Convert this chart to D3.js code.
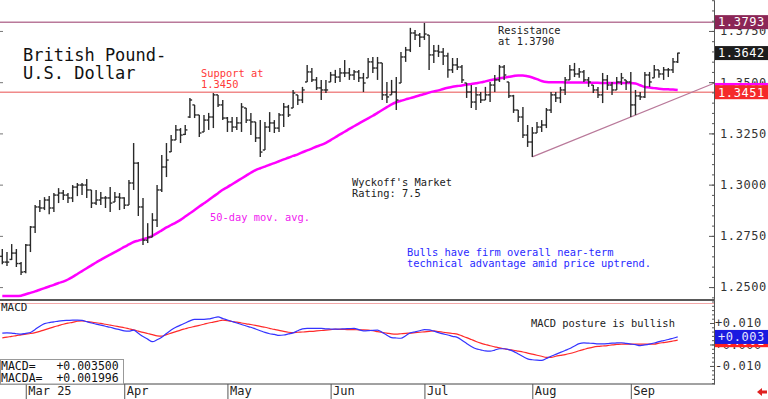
<!DOCTYPE html>
<html>
<head>
<meta charset="utf-8">
<script src="https://cdnjs.cloudflare.com/ajax/libs/d3/7.8.5/d3.min.js"></script>
<style>
  body { margin: 0; background: #fff; }
  svg { display: block; }
</style>
</head>
<body>
<div id="chart-area"></div>
<script>
const SVG_WIDTH = 768
const SVG_HEIGHT = 399
const PLOT_RIGHT = 714
const PRICE_BOTTOM = 300
const MACD_BOTTOM = 384
const FONT = "'DejaVu Sans Mono', monospace"

// ---- data ----
const START_DATE = "2025-02-24"
const SKIP_DATES = ["2025-06-19"]

const opens = [1.2650,1.2622,1.2635,1.2666,1.2615,1.2575,1.2705,1.2793,1.2891,1.2886,
  1.2925,1.2886,1.2949,1.2959,1.2949,1.2935,1.2988,1.2998,1.2998,1.2974,
  1.2910,1.2925,1.2935,1.2935,1.2915,1.2939,1.2935,1.2900,1.3008,1.3105,
  1.2891,1.2729,1.2744,1.2827,1.2974,1.3086,1.3160,1.3218,1.3267,1.3245,
  1.3330,1.3389,1.3340,1.3257,1.3315,1.3330,1.3438,1.3389,1.3325,1.3306,
  1.3281,1.3301,1.3374,1.3315,1.3306,1.3228,1.3169,1.3281,1.3301,1.3276,
  1.3340,1.3379,1.3374,1.3438,1.3413,1.3501,1.3550,1.3511,1.3472,1.3462,
  1.3501,1.3535,1.3525,1.3545,1.3545,1.3535,1.3550,1.3521,1.3521,1.3599,
  1.3569,1.3594,1.3438,1.3438,1.3452,1.3496,1.3623,1.3657,1.3740,1.3730,
  1.3720,1.3730,1.3633,1.3652,1.3647,1.3628,1.3560,1.3584,1.3574,1.3496,
  1.3452,1.3403,1.3438,1.3413,1.3438,1.3486,1.3511,1.3574,1.3501,1.3433,
  1.3364,1.3330,1.3242,1.3208,1.3252,1.3281,1.3291,1.3364,1.3438,1.3423,
  1.3462,1.3511,1.3560,1.3540,1.3550,1.3511,1.3486,1.3462,1.3438,1.3511,
  1.3486,1.3462,1.3501,1.3511,1.3501,1.3389,1.3433,1.3428,1.3535,1.3521,
  1.3560,1.3540,1.3560,1.3560,1.3599]

const highs = [1.2686,1.2671,1.2710,1.2686,1.2622,1.2710,1.2798,1.2900,1.2925,1.2939,
  1.2944,1.2959,1.2983,1.2974,1.2959,1.2998,1.3008,1.3008,1.3027,1.2974,
  1.2974,1.2964,1.2944,1.2988,1.2964,1.2959,1.2939,1.3022,1.3203,1.3110,
  1.2935,1.2812,1.2861,1.2998,1.3145,1.3203,1.3242,1.3291,1.3276,1.3291,
  1.3423,1.3389,1.3340,1.3340,1.3350,1.3447,1.3438,1.3413,1.3330,1.3330,
  1.3330,1.3398,1.3374,1.3350,1.3306,1.3315,1.3306,1.3354,1.3315,1.3350,
  1.3398,1.3389,1.3462,1.3438,1.3477,1.3584,1.3569,1.3525,1.3511,1.3511,
  1.3550,1.3560,1.3569,1.3608,1.3569,1.3560,1.3560,1.3545,1.3618,1.3623,
  1.3623,1.3594,1.3501,1.3511,1.3525,1.3647,1.3672,1.3765,1.3755,1.3740,
  1.3789,1.3730,1.3682,1.3682,1.3667,1.3643,1.3618,1.3618,1.3584,1.3496,
  1.3486,1.3477,1.3452,1.3477,1.3501,1.3535,1.3584,1.3584,1.3501,1.3438,
  1.3364,1.3379,1.3291,1.3281,1.3306,1.3315,1.3374,1.3452,1.3452,1.3477,
  1.3525,1.3584,1.3594,1.3569,1.3560,1.3525,1.3486,1.3477,1.3545,1.3535,
  1.3501,1.3525,1.3545,1.3511,1.3550,1.3462,1.3452,1.3550,1.3550,1.3584,
  1.3560,1.3574,1.3569,1.3618,1.3643]

const lows = [1.2612,1.2603,1.2632,1.2598,1.2559,1.2568,1.2671,1.2764,1.2866,1.2876,
  1.2856,1.2866,1.2910,1.2925,1.2910,1.2915,1.2944,1.2949,1.2935,1.2886,
  1.2900,1.2900,1.2886,1.2866,1.2915,1.2876,1.2881,1.2900,1.2974,1.2847,
  1.2705,1.2715,1.2744,1.2793,1.2964,1.3037,1.3159,1.3218,1.3203,1.3242,
  1.3325,1.3325,1.3232,1.3257,1.3267,1.3276,1.3379,1.3315,1.3257,1.3257,
  1.3267,1.3257,1.3301,1.3242,1.3208,1.3135,1.3169,1.3257,1.3252,1.3257,
  1.3281,1.3330,1.3374,1.3389,1.3398,1.3501,1.3501,1.3462,1.3413,1.3447,
  1.3501,1.3496,1.3501,1.3525,1.3511,1.3511,1.3501,1.3452,1.3521,1.3545,
  1.3511,1.3413,1.3398,1.3438,1.3364,1.3496,1.3599,1.3647,1.3706,1.3672,
  1.3706,1.3560,1.3594,1.3623,1.3584,1.3521,1.3545,1.3560,1.3496,1.3423,
  1.3374,1.3364,1.3398,1.3413,1.3403,1.3452,1.3501,1.3511,1.3423,1.3350,
  1.3306,1.3228,1.3184,1.3135,1.3252,1.3257,1.3276,1.3350,1.3403,1.3398,
  1.3438,1.3511,1.3525,1.3521,1.3501,1.3477,1.3447,1.3423,1.3398,1.3462,
  1.3438,1.3462,1.3486,1.3462,1.3330,1.3340,1.3413,1.3423,1.3477,1.3521,
  1.3521,1.3511,1.3525,1.3545,1.3594]

const closes = [1.2622,1.2622,1.2666,1.2615,1.2573,1.2705,1.2793,1.2891,1.2886,1.2925,
  1.2886,1.2949,1.2959,1.2949,1.2935,1.2988,1.2998,1.2998,1.2974,1.2910,
  1.2925,1.2935,1.2935,1.2910,1.2939,1.2935,1.2900,1.3008,1.3105,1.2891,
  1.2729,1.2744,1.2827,1.2974,1.3086,1.3120,1.3218,1.3267,1.3242,1.3267,
  1.3413,1.3340,1.3252,1.3315,1.3330,1.3438,1.3389,1.3325,1.3306,1.3281,
  1.3301,1.3379,1.3315,1.3306,1.3228,1.3159,1.3281,1.3301,1.3276,1.3340,
  1.3379,1.3340,1.3447,1.3413,1.3462,1.3550,1.3511,1.3472,1.3462,1.3462,
  1.3535,1.3525,1.3545,1.3545,1.3535,1.3550,1.3521,1.3496,1.3599,1.3569,
  1.3594,1.3438,1.3428,1.3452,1.3413,1.3623,1.3657,1.3740,1.3730,1.3720,
  1.3735,1.3633,1.3652,1.3647,1.3628,1.3560,1.3584,1.3574,1.3511,1.3452,
  1.3403,1.3438,1.3413,1.3438,1.3486,1.3511,1.3574,1.3535,1.3433,1.3364,
  1.3330,1.3242,1.3208,1.3252,1.3281,1.3291,1.3364,1.3438,1.3423,1.3462,
  1.3511,1.3560,1.3540,1.3550,1.3511,1.3501,1.3462,1.3438,1.3511,1.3486,
  1.3462,1.3501,1.3521,1.3501,1.3389,1.3433,1.3428,1.3535,1.3501,1.3560,
  1.3540,1.3560,1.3560,1.3599,1.3642]

const ma50 = [1.2456,1.2456,1.2456,1.2456,1.2458,1.2465,1.2472,1.2479,1.2487,1.2495,
  1.2503,1.2511,1.2520,1.2527,1.2537,1.2550,1.2564,1.2578,1.2592,1.2606,
  1.2620,1.2633,1.2646,1.2658,1.2671,1.2683,1.2696,1.2708,1.2720,1.2727,
  1.2734,1.2740,1.2750,1.2763,1.2777,1.2791,1.2803,1.2815,1.2828,1.2844,
  1.2860,1.2876,1.2893,1.2909,1.2925,1.2942,1.2958,1.2975,1.2988,1.3002,
  1.3016,1.3030,1.3044,1.3058,1.3071,1.3080,1.3088,1.3097,1.3105,1.3114,
  1.3123,1.3131,1.3140,1.3148,1.3158,1.3167,1.3176,1.3186,1.3194,1.3204,
  1.3217,1.3231,1.3245,1.3258,1.3272,1.3285,1.3298,1.3311,1.3323,1.3336,
  1.3350,1.3364,1.3378,1.3392,1.3402,1.3409,1.3416,1.3422,1.3429,1.3436,
  1.3442,1.3449,1.3455,1.3460,1.3467,1.3473,1.3478,1.3481,1.3484,1.3488,
  1.3491,1.3495,1.3499,1.3504,1.3509,1.3514,1.3519,1.3523,1.3526,1.3530,
  1.3533,1.3533,1.3529,1.3523,1.3515,1.3506,1.3501,1.3500,1.3500,1.3500,
  1.3499,1.3499,1.3499,1.3498,1.3498,1.3498,1.3497,1.3497,1.3496,1.3496,
  1.3496,1.3496,1.3496,1.3496,1.3496,1.3494,1.3485,1.3476,1.3474,1.3471,
  1.3468,1.3466,1.3465,1.3464,1.3462]

const macd = [.0053,.0054,.0053,.0050,.0048,.0052,.0056,.0070,.0085,.0097,
  .0102,.0105,.0109,.0111,.0112,.0113,.0113,.0112,.0106,.0100,
  .0095,.0090,.0085,.0080,.0074,.0069,.0063,.0062,.0067,.0052,
  .0037,.0025,.0013,.0022,.0034,.0051,.0067,.0080,.0090,.0100,
  .0110,.0117,.0117,.0117,.0119,.0124,.0128,.0121,.0114,.0107,
  .0100,.0093,.0086,.0080,.0072,.0064,.0056,.0050,.0047,.0042,
  .0044,.0049,.0054,.0064,.0073,.0075,.0075,.0075,.0075,.0073,
  .0072,.0071,.0072,.0073,.0074,.0075,.0069,.0063,.0064,.0066,
  .0067,.0056,.0043,.0032,.0030,.0029,.0041,.0054,.0059,.0064,
  .0069,.0068,.0062,.0055,.0049,.0044,.0038,.0033,.0020,.0005,
  -.0009,-.0020,-.0025,-.0030,-.0031,-.0026,-.0020,-.0020,-.0024,-.0032,
  -.0044,-.0056,-.0067,-.0071,-.0073,-.0074,-.0065,-.0055,-.0046,-.0037,
  -.0028,-.0019,-.0007,.0004,.0007,.0006,.0005,.0003,.0003,.0004,
  .0006,.0007,.0008,.0005,.0002,-.0001,-.0005,-.0002,.0002,.0007,
  .0013,.0018,.0023,.0029,.0035]

const macdSignal = [.0031,.0034,.0038,.0041,.0045,.0048,.0051,.0055,.0061,.0068,
  .0075,.0082,.0088,.0094,.0099,.0103,.0108,.0110,.0107,.0104,
  .0101,.0098,.0094,.0090,.0086,.0082,.0078,.0073,.0068,.0062,
  .0056,.0051,.0046,.0040,.0039,.0046,.0053,.0060,.0067,.0073,
  .0079,.0084,.0089,.0094,.0100,.0104,.0109,.0113,.0111,.0107,
  .0104,.0100,.0096,.0093,.0089,.0084,.0080,.0075,.0070,.0066,
  .0061,.0057,.0055,.0057,.0058,.0060,.0061,.0063,.0065,.0067,
  .0069,.0071,.0070,.0070,.0069,.0069,.0068,.0068,.0067,.0064,
  .0060,.0056,.0053,.0049,.0048,.0050,.0052,.0053,.0055,.0057,
  .0059,.0061,.0063,.0060,.0057,.0054,.0051,.0048,.0040,.0032,
  .0023,.0014,.0006,.0000,-.0006,-.0011,-.0016,-.0020,-.0024,-.0027,
  -.0031,-.0035,-.0040,-.0045,-.0050,-.0055,-.0060,-.0060,-.0055,-.0051,
  -.0047,-.0042,-.0036,-.0029,-.0023,-.0017,-.0012,-.0009,-.0007,-.0005,
  -.0002,.0000,.0002,.0002,.0002,.0002,.0002,.0002,.0002,.0002,
  .0006,.0009,.0012,.0016,.0020]

const priceTicks = [1.2500, 1.2750, 1.3000, 1.3250, 1.3500, 1.3750]
const macdTicks = [0.010, 0, -0.010]
const RESISTANCE = 1.3793
const SUPPORT = 1.3451
const TREND_FROM = [113, 1.3135]   // bar index, price
const TREND_TO = [134, 1.3330]
const MACD_NOW = 0.003500
const MACDA_NOW = 0.001996

// ---- dates: weekdays from START_DATE ----
const dates = []
let day = d3.timeParse("%Y-%m-%d")(START_DATE)
while (dates.length < closes.length) {
  const iso = d3.timeFormat("%Y-%m-%d")(day)
  if (day.getDay() % 6 !== 0 && !SKIP_DATES.includes(iso)) dates.push(day)
  day = d3.timeDay.offset(day, 1)
}
const monthStarts = d3.range(1, dates.length).filter(i => dates[i].getMonth() !== dates[i - 1].getMonth())

const N = closes.length
const x = d3.scaleLinear().domain([0, N - 1]).range([2.3, 677.7])
const y = d3.scaleLinear().domain([1.2437, 1.3901]).range([PRICE_BOTTOM, 0])
const yM = d3.scaleLinear().domain([-0.0184, 0.0207]).range([MACD_BOTTOM, PRICE_BOTTOM])

const svg = d3.select("#chart-area").append("svg")
  .attr("width", SVG_WIDTH)
  .attr("height", SVG_HEIGHT)
  .style("font-family", FONT)

// reference lines
svg.append("line")
  .attr("x1", 0).attr("x2", PLOT_RIGHT)
  .attr("y1", y(RESISTANCE)).attr("y2", y(RESISTANCE))
  .attr("stroke", "#b9799a").attr("stroke-width", 1.5)

svg.append("line")
  .attr("x1", 0).attr("x2", PLOT_RIGHT)
  .attr("y1", y(SUPPORT)).attr("y2", y(SUPPORT))
  .attr("stroke", "#f08a8a").attr("stroke-width", 1.5)

const trendSlope = (TREND_TO[1] - TREND_FROM[1]) / (TREND_TO[0] - TREND_FROM[0])
const trendEnd = x.invert(PLOT_RIGHT)
svg.append("line")
  .attr("x1", x(TREND_FROM[0])).attr("y1", y(TREND_FROM[1]))
  .attr("x2", PLOT_RIGHT).attr("y2", y(TREND_FROM[1] + trendSlope * (trendEnd - TREND_FROM[0])))
  .attr("stroke", "#b9799a").attr("stroke-width", 1.3)

// 50-day moving average
svg.append("path")
  .datum(ma50)
  .attr("fill", "none")
  .attr("stroke", "#ff00ff")
  .attr("stroke-width", 2.5)
  .attr("d", d3.line().x((d, i) => x(i)).y(d => y(d)).curve(d3.curveMonotoneX))

// OHLC bars
const bars = svg.append("g")
  .attr("stroke", "#2a2a2a")
  .attr("stroke-width", 1.4)
  .selectAll("g")
  .data(closes.map((c, i) => ({ i, o: opens[i], h: highs[i], l: lows[i], c })))
  .enter().append("g")

bars.append("line")
  .attr("x1", d => x(d.i)).attr("x2", d => x(d.i))
  .attr("y1", d => y(d.h)).attr("y2", d => y(d.l))
bars.append("line")
  .attr("x1", d => x(d.i) - 2.2).attr("x2", d => x(d.i))
  .attr("y1", d => y(d.o)).attr("y2", d => y(d.o))
bars.append("line")
  .attr("x1", d => x(d.i)).attr("x2", d => x(d.i) + 2.2)
  .attr("y1", d => y(d.c)).attr("y2", d => y(d.c))

// MACD pane
svg.append("line")
  .attr("x1", 0).attr("x2", PLOT_RIGHT)
  .attr("y1", PRICE_BOTTOM + 3.5).attr("y2", PRICE_BOTTOM + 3.5)
  .attr("stroke", "#f4a8a8").attr("stroke-width", 1)

const macdLine = d3.line().x((d, i) => x(i)).y(d => yM(d)).curve(d3.curveMonotoneX)
svg.append("path").datum(macdSignal)
  .attr("fill", "none").attr("stroke", "#ff2a2a").attr("stroke-width", 1.2)
  .attr("d", macdLine)
svg.append("path").datum(macd)
  .attr("fill", "none").attr("stroke", "#3434ff").attr("stroke-width", 1.2)
  .attr("d", macdLine)

// pane borders
svg.append("line")
  .attr("x1", 0).attr("x2", PLOT_RIGHT)
  .attr("y1", PRICE_BOTTOM).attr("y2", PRICE_BOTTOM)
  .attr("stroke", "#222").attr("stroke-width", 1.6)
svg.append("line")
  .attr("x1", 0).attr("x2", PLOT_RIGHT)
  .attr("y1", MACD_BOTTOM).attr("y2", MACD_BOTTOM)
  .attr("stroke", "#444").attr("stroke-width", 1)

// right axes
function styleAxis(sel, size, spacing) {
  sel.attr("font-family", FONT)
  sel.select(".domain").attr("stroke", "#555")
  sel.selectAll(".tick line").attr("stroke", "#555")
  sel.selectAll("text").attr("font-size", size).attr("letter-spacing", spacing).attr("fill", "#333")
}

svg.append("g")
  .attr("transform", `translate(${PLOT_RIGHT}, 0)`)
  .call(d3.axisRight(y).tickValues(y.ticks(30)).tickSize(-2).tickSizeOuter(0).tickFormat(""))
  .call(styleAxis, 12, 0.5)

svg.append("g")
  .attr("transform", `translate(${PLOT_RIGHT}, 0)`)
  .call(d3.axisRight(y).tickValues(priceTicks).tickSize(-5).tickSizeOuter(0).tickPadding(6)
    .tickFormat(d3.format(".4f")))
  .call(styleAxis, 12, 0.6)

svg.append("g")
  .call(d3.axisRight(y).tickValues(priceTicks).tickSize(3).tickSizeOuter(0).tickFormat(""))
  .call(g => g.select(".domain").remove())
  .call(g => g.selectAll(".tick line").attr("stroke", "#777"))

svg.append("g")
  .attr("transform", `translate(${PLOT_RIGHT}, 0)`)
  .call(d3.axisRight(yM).tickValues(yM.ticks(20)).tickSize(-2).tickSizeOuter(0).tickFormat(""))
  .call(styleAxis, 12, 0.5)

svg.append("g")
  .attr("transform", `translate(${PLOT_RIGHT}, 0)`)
  .call(d3.axisRight(yM).tickValues(macdTicks).tickSize(-4).tickSizeOuter(0).tickPadding(1)
    .tickFormat(d => (d < 0 ? "-" : "+") + Math.abs(d).toFixed(3)))
  .call(styleAxis, 12, 0.6)

// value boxes on the right axis
function valueBox(v, scale, fill, label, textFill) {
  const cy = scale(v)
  svg.append("rect")
    .attr("x", PLOT_RIGHT + 1).attr("y", cy - 7)
    .attr("width", SVG_WIDTH - PLOT_RIGHT - 1).attr("height", 14)
    .attr("fill", fill)
  svg.append("text")
    .attr("x", PLOT_RIGHT + 4).attr("y", cy)
    .attr("dy", "0.36em")
    .attr("font-size", 12).attr("letter-spacing", 0.6)
    .attr("fill", textFill)
    .text(label)
}
// the MACD box shows the value cut to 3 decimals, not rounded
const cut3 = v => (v < 0 ? "-" : "+") + (Math.floor(Math.abs(v) * 1000) / 1000).toFixed(3)
valueBox(ma50[N - 1], y, "#ff00ff", ma50[N - 1].toFixed(4), "#fff")
valueBox(SUPPORT, y, "#f52a2a", SUPPORT.toFixed(4), "#fff")
valueBox(RESISTANCE, y, "#8b2556", RESISTANCE.toFixed(4), "#fff")
valueBox(closes[N - 1], y, "#1c1c1c", closes[N - 1].toFixed(4), "#fff")
valueBox(MACDA_NOW, yM, "#ff2020", cut3(MACDA_NOW), "#fff")
valueBox(MACD_NOW, yM, "#1a1ae0", cut3(MACD_NOW), "#e6e6ff")

// date axis
const xAxis = d3.axisBottom(x)
  .tickValues(monthStarts)
  .tickSize(15)
  .tickFormat((d, k) => d3.timeFormat(k === 0 ? "%b %y" : "%b")(dates[d]))
svg.append("g")
  .attr("transform", `translate(0, ${MACD_BOTTOM})`)
  .call(xAxis)
  .call(g => g.select(".domain").remove())
  .call(g => g.selectAll(".tick line").attr("stroke", "#555"))
  .call(g => g.selectAll("text")
    .attr("font-family", FONT).attr("font-size", 12).attr("fill", "#222")
    .attr("text-anchor", "start").attr("x", 2).attr("y", 2).attr("dy", "0.78em"))

// text notes
function note(xPos, yPos, lines, color, size, spacing) {
  const t = svg.append("text")
    .attr("x", xPos).attr("y", yPos)
    .attr("fill", color)
    .attr("font-size", size)
    .attr("letter-spacing", spacing || 0)
  lines.forEach((s, k) => t.append("tspan").attr("x", xPos).attr("dy", k ? size * 1.08 : 0).text(s))
}
note(23, 61, ["British Pound-", "U.S. Dollar"], "#111", 17, 0)
note(201, 77, ["Support at", "1.3450"], "#ff3a3a", 10.4)
note(498, 34, ["Resistance", "at 1.3790"], "#222", 10.4)
note(352, 186, ["Wyckoff's Market", "Rating: 7.5"], "#222", 10.4)
note(210, 221, ["50-day mov. avg."], "#f020f0", 10.4)
note(407, 256, ["Bulls have firm overall near-term", "technical advantage amid price uptrend."], "#2a2aff", 10.4)
note(531, 327, ["MACD posture is bullish"], "#222", 10.4)
note(1, 311, ["MACD"], "#222", 11)

// readout box
svg.append("rect")
  .attr("x", 0.5).attr("y", 359.5)
  .attr("width", 123).attr("height", MACD_BOTTOM - 359.5)
  .attr("fill", "#fff").attr("stroke", "#999")
const fmt6 = v => (v < 0 ? "-" : "+") + Math.abs(v).toFixed(6)
svg.append("text")
  .attr("x", 1).attr("y", 370)
  .attr("font-size", 11.5).attr("fill", "#111")
  .style("white-space", "pre")
  .text("MACD=   " + fmt6(MACD_NOW))
svg.append("text")
  .attr("x", 1).attr("y", 382)
  .attr("font-size", 11.5).attr("fill", "#111")
  .style("white-space", "pre")
  .text("MACDA=  " + fmt6(MACDA_NOW))

// little red arrow, bottom right
svg.append("path")
  .attr("d", "M757,392 l5,-4 v2.5 h5 v3 h-5 v2.5 z")
  .attr("fill", "#e02020")
</script>
</body>
</html>
